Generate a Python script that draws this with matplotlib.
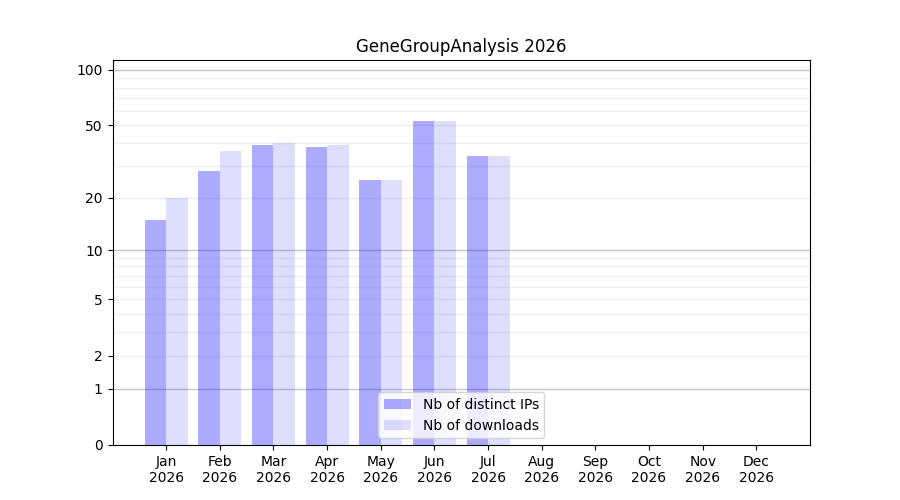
import numpy as np
import matplotlib
matplotlib.use('Agg')
import matplotlib.pyplot as plt


MONTHS = ['Jan', 'Feb', 'Mar', 'Apr', 'May', 'Jun',
          'Jul', 'Aug', 'Sep', 'Oct', 'Nov', 'Dec']
YEAR = '2026'
# Only Jan-Jul have data
DISTINCT_IPS = [15, 28, 39, 38, 25, 53, 34]
DOWNLOADS = [20, 36, 40, 39, 25, 53, 34]

Y_TICKS = [0, 1, 2, 5, 10, 20, 50, 100]
GRID_MAJOR = [1, 10, 100]
GRID_MINOR = [2, 3, 4, 5, 6, 7, 8, 9, 20, 30, 40, 50, 60, 70, 80, 90]


def fwd(y):
    return np.log10(np.asarray(y, dtype=float) + 1)


def inv(y):
    return 10 ** np.asarray(y, dtype=float) - 1


fig, ax = plt.subplots(figsize=(9, 5), dpi=100)

x = np.arange(len(DISTINCT_IPS))
ax.bar(x, DISTINCT_IPS, width=-0.4, align='edge', color='blue', alpha=0.33,
       label='Nb of distinct IPs', zorder=2)
ax.bar(x, DOWNLOADS, width=0.4, align='edge', color='blue', alpha=0.13,
       label='Nb of downloads', zorder=2)

ax.set_yscale('function', functions=(fwd, inv))
ax.set_ylim(0, 113)
ax.set_yticks(Y_TICKS)
ax.set_yticklabels([str(t) for t in Y_TICKS])
ax.yaxis.set_minor_locator(matplotlib.ticker.NullLocator())

# light lines for 2..9 and 20..90, darker ones on each decade
for v in GRID_MINOR:
    ax.axhline(v, color='#efefef', linewidth=1, zorder=1)
for v in GRID_MAJOR:
    ax.axhline(v, color='#c8c8c8', linewidth=1, zorder=1)

ax.set_xlim(-1, len(MONTHS))
ax.set_xticks(np.arange(len(MONTHS)))
ax.set_xticklabels([f'{m}\n{YEAR}' for m in MONTHS])

ax.set_title(f'GeneGroupAnalysis {YEAR}')
ax.legend(loc='lower center')

plt.savefig('out.png', dpi=100)
plt.close()
